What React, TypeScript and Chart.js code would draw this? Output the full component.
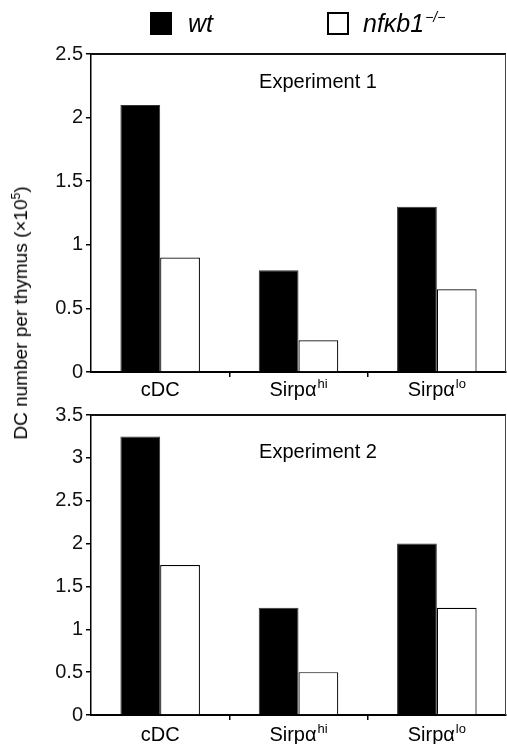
import React, { useEffect, useRef } from "react";
import { Chart, registerables } from "chart.js";

Chart.register(...registerables);

const FONT = '"Liberation Sans", Arial, Helvetica, sans-serif';

const categories = ["cDC", "Sirpα", "Sirpα"];
const categorySup = ["", "hi", "lo"];
const seriesNames = ["wt", "nfκb1"];

const exp1Wt = [2.1, 0.8, 1.3];
const exp1Ko = [0.9, 0.25, 0.65];
const exp2Wt = [3.25, 1.25, 2.0];
const exp2Ko = [1.75, 0.5, 1.25];

const exp1Max = 2.5;
const exp2Max = 3.5;
const yStep = 0.5;

const decorPlugin = {
  id: "decor",
  afterDraw(chart: any, _args: any, opts: any) {
    const { ctx, chartArea } = chart;
    const xs = chart.scales.x;
    ctx.save();
    // top and right frame
    ctx.strokeStyle = "#111";
    ctx.lineWidth = 2;
    ctx.beginPath();
    ctx.moveTo(chartArea.left, chartArea.top);
    ctx.lineTo(chartArea.right, chartArea.top);
    ctx.stroke();
    ctx.lineWidth = 1;
    ctx.strokeStyle = "#444";
    ctx.beginPath();
    ctx.moveTo(chartArea.right - 0.5, chartArea.top);
    ctx.lineTo(chartArea.right - 0.5, chartArea.bottom);
    ctx.stroke();

    // category labels with superscripts
    ctx.fillStyle = "#000";
    ctx.textBaseline = "alphabetic";
    ctx.textAlign = "left";
    categories.forEach((c, i) => {
      const x = xs.getPixelForValue(i);
      ctx.font = `20px ${FONT}`;
      const w1 = ctx.measureText(c).width;
      ctx.font = `13px ${FONT}`;
      const w2 = categorySup[i] ? ctx.measureText(categorySup[i]).width + 1 : 0;
      const start = x - (w1 + w2) / 2;
      const y = chartArea.bottom + opts.labelOffset;
      ctx.font = `20px ${FONT}`;
      ctx.fillText(c, start, y);
      if (categorySup[i]) {
        ctx.font = `13px ${FONT}`;
        ctx.fillText(categorySup[i], start + w1 + 1, y - 8);
      }
    });

    // experiment title
    ctx.font = `20px ${FONT}`;
    ctx.textAlign = "center";
    ctx.fillText(opts.title, opts.titleX, chartArea.top + opts.titleOffset);
    ctx.restore();
  },
};

function makeChart(
  canvas: HTMLCanvasElement,
  wt: number[],
  ko: number[],
  max: number,
  padTop: number,
  xHeight: number,
  title: string,
  titleOffset: number,
  labelOffset: number
) {
  return new Chart(canvas, {
    type: "bar",
    data: {
      labels: categories.map((c, i) => c + categorySup[i]),
      datasets: [
        {
          label: seriesNames[0],
          data: wt,
          backgroundColor: "#000",
          borderColor: "#333",
          borderWidth: 1,
          categoryPercentage: 0.575,
          barPercentage: 1,
        },
        {
          label: seriesNames[1],
          data: ko,
          backgroundColor: "#fff",
          borderColor: "#000",
          borderWidth: 1.2,
          categoryPercentage: 0.575,
          barPercentage: 1,
        },
      ],
    },
    options: {
      responsive: false,
      animation: false,
      devicePixelRatio: 1,
      layout: { padding: { top: padTop, right: 1, left: 0, bottom: 0 } },
      plugins: {
        legend: { display: false },
        tooltip: { enabled: false },
        decor: { title, titleX: 318, titleOffset, labelOffset },
      } as any,
      scales: {
        x: {
          grid: {
            display: true,
            drawOnChartArea: false,
            drawTicks: true,
            tickLength: 5,
            offset: true,
            color: (ctx: any) =>
              ctx.type !== "tick" || ctx.index === 0 ? "rgba(0,0,0,0)" : "#000",
            lineWidth: 1.5,
          },
          border: { display: true, color: "#000", width: 2 },
          ticks: { display: false },
          afterFit: (s: any) => {
            s.height = xHeight;
          },
        },
        y: {
          min: 0,
          max,
          grid: {
            display: true,
            drawOnChartArea: false,
            drawTicks: true,
            tickLength: 5,
            color: "#000",
            lineWidth: 1.5,
          },
          border: { display: true, color: "#000", width: 1.5 },
          ticks: {
            stepSize: yStep,
            padding: 3,
            color: "#111",
            font: { family: FONT, size: 20 },
            callback: (v: any) => String(Number(v)),
          },
          afterFit: (s: any) => {
            s.width = 91;
          },
        },
      },
    },
    plugins: [decorPlugin],
  });
}

export default function App() {
  const c1 = useRef<HTMLCanvasElement>(null);
  const c2 = useRef<HTMLCanvasElement>(null);

  useEffect(() => {
    const a = makeChart(c1.current!, exp1Wt, exp1Ko, exp1Max, 54, 28, "Experiment 1", 34, 24);
    const b = makeChart(c2.current!, exp2Wt, exp2Ko, exp2Max, 6, 29, "Experiment 2", 43, 26);
    return () => {
      a.destroy();
      b.destroy();
    };
  }, []);

  return (
    <div
      style={{
        position: "fixed",
        left: 0,
        top: 0,
        width: 507,
        height: 744,
        background: "#fff",
        fontFamily: FONT,
        overflow: "hidden",
      }}
    >
      <canvas
        ref={c1}
        width={507}
        height={400}
        style={{ position: "absolute", left: 0, top: 0, width: 507, height: 400 }}
      />
      <canvas
        ref={c2}
        width={507}
        height={344}
        style={{ position: "absolute", left: 0, top: 400, width: 507, height: 344 }}
      />
      {/* legend */}
      <div style={{ position: "absolute", left: 150, top: 12, width: 22, height: 23, background: "#000" }} />
      <div
        style={{
          position: "absolute",
          left: 188,
          top: 11,
          fontSize: 25,
          lineHeight: "25px",
          fontStyle: "italic",
          whiteSpace: "nowrap",
        }}
      >
        {seriesNames[0]}
      </div>
      <div
        style={{
          position: "absolute",
          left: 327,
          top: 12,
          width: 22,
          height: 23,
          boxSizing: "border-box",
          border: "2px solid #000",
          background: "#fff",
        }}
      />
      <div
        style={{
          position: "absolute",
          left: 363,
          top: 11,
          fontSize: 25,
          lineHeight: "25px",
          fontStyle: "italic",
          whiteSpace: "nowrap",
        }}
      >
        {seriesNames[1]}
        <span style={{ fontSize: 14, position: "relative", top: -10, marginLeft: 1 }}>−/−</span>
      </div>
      {/* y axis title */}
      <div
        style={{
          position: "absolute",
          left: 22,
          top: 313,
          transform: "translate(-50%, -50%) rotate(-90deg)",
          fontSize: 19,
          lineHeight: "19px",
          whiteSpace: "nowrap",
        }}
      >
        DC number per thymus (×10
        <span style={{ fontSize: 12, position: "relative", top: -7 }}>5</span>)
      </div>
    </div>
  );
}
